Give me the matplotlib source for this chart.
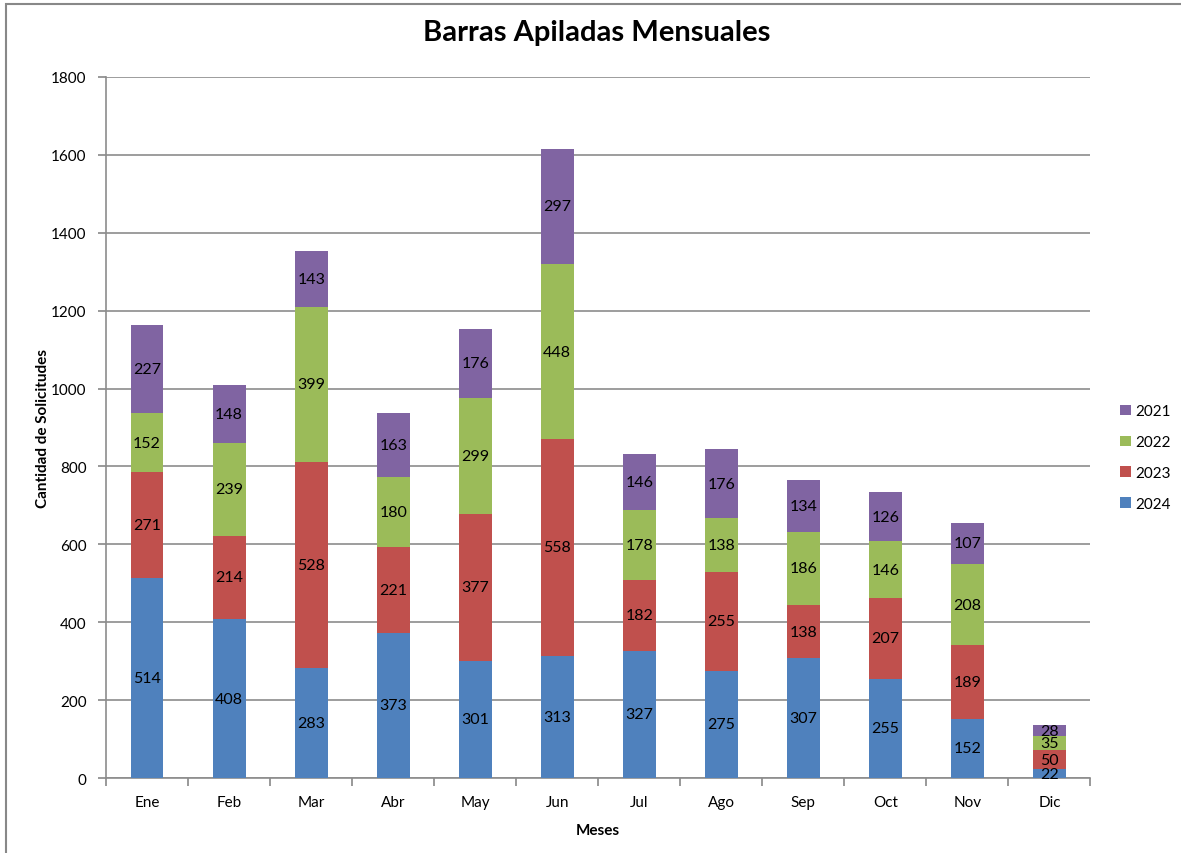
import matplotlib.pyplot as plt
import numpy as np
from matplotlib.patches import Rectangle

plt.rcParams['font.family'] = ['Lato', 'DejaVu Sans']

meses = ['Ene', 'Feb', 'Mar', 'Abr', 'May', 'Jun', 'Jul', 'Ago', 'Sep', 'Oct', 'Nov', 'Dic']
v2024 = [514, 408, 283, 373, 301, 313, 327, 275, 307, 255, 152, 22]
v2023 = [271, 214, 528, 221, 377, 558, 182, 255, 138, 207, 189, 50]
v2022 = [152, 239, 399, 180, 299, 448, 178, 138, 186, 146, 208, 35]
v2021 = [227, 148, 143, 163, 176, 297, 146, 176, 134, 126, 107, 28]

series = [('2024', v2024, '#4F81BD'), ('2023', v2023, '#C0504D'),
          ('2022', v2022, '#9BBB59'), ('2021', v2021, '#8064A2')]

fig = plt.figure(figsize=(11.81, 8.54), dpi=100)
ax = fig.add_axes([0.0898, 0.0878, 0.8335, 0.8209])

x = np.arange(len(meses))
bottom = np.zeros(len(meses))
handles = []
for name, vals, col in series:
    vals = np.array(vals)
    b = ax.bar(x, vals, 0.4, bottom=bottom, color=col, label=name, zorder=3)
    handles.append(b)
    for xi, yb, v in zip(x, bottom, vals):
        ax.text(xi, yb + v / 2, str(v), ha='center', va='center', fontsize=11.5, zorder=4)
    bottom += vals

ax.set_xlim(-0.5, len(meses) - 0.5)
ax.set_ylim(0, 1800)
ax.set_yticks(range(0, 1801, 200))
ax.set_xticks(x)
ax.set_xticklabels(meses, fontsize=11)
ax.set_xticks(np.arange(-0.5, len(meses)), minor=True)
ax.tick_params(axis='x', which='major', length=0, pad=12)
ax.tick_params(axis='x', which='minor', length=6, color='#888888', width=1.2)
ax.tick_params(axis='y', length=6, color='#888888', width=1.2, labelsize=11, pad=8)
ax.grid(axis='y', color='#8c8c8c', linewidth=1.2, zorder=0)
for s in ['top', 'right']:
    ax.spines[s].set_visible(False)
for s in ['left', 'bottom']:
    ax.spines[s].set_color('#8c8c8c')
    ax.spines[s].set_linewidth(1.2)

ax.set_xlabel('Meses', fontsize=11, fontweight='bold', labelpad=10)
ax.set_ylabel('Cantidad de Solicitudes', fontsize=11, fontweight='bold', labelpad=1)
fig.suptitle('Barras Apiladas Mensuales', fontsize=21, fontweight='bold', x=0.505, y=0.977)

leg = fig.legend(handles[::-1], [s[0] for s in series][::-1], loc='center left',
                 bbox_to_anchor=(0.937, 0.463), frameon=False, fontsize=11,
                 handlelength=0.7, handleheight=0.7, handletextpad=0.3, labelspacing=1.1)

fig.patches.append(Rectangle((0.005, -0.01), 1.2, 1.004, transform=fig.transFigure,
                             fill=False, edgecolor='#888888', linewidth=1.5))

fig.savefig('out.png', dpi=100)
